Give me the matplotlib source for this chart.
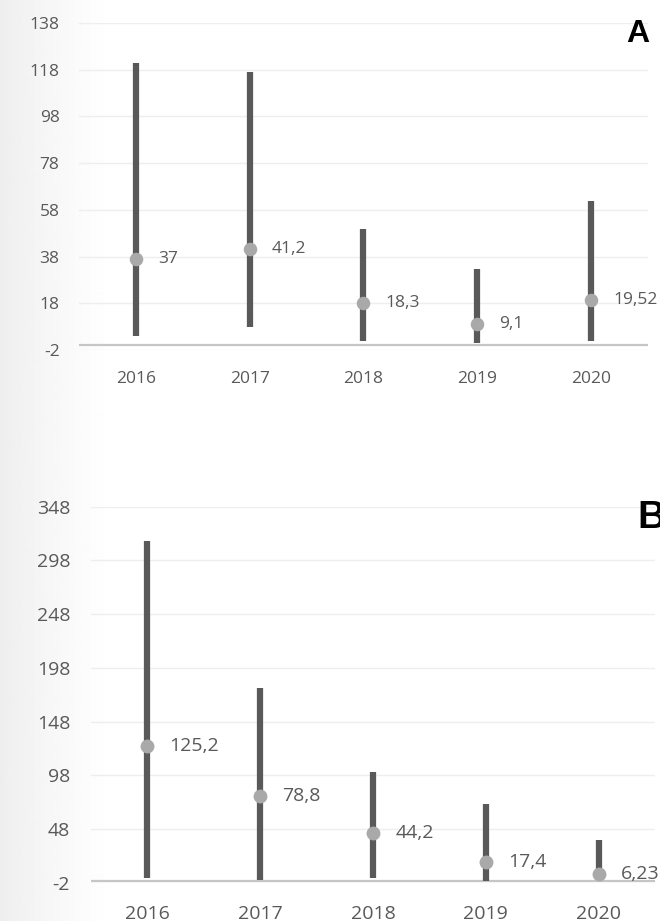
import numpy as np
import matplotlib.pyplot as plt

# categories
years = ['2016', '2017', '2018', '2019', '2020']

# panel A: central value with low / high range
a_mid = [37, 41.2, 18.3, 9.1, 19.52]
a_low = [4, 7.8, 1.9, 1, 1.9]
a_high = [121, 117, 49.8, 32.7, 61.8]
a_labels = ['37', '41,2', '18,3', '9,1', '19,52']
a_ticks = [-2, 18, 38, 58, 78, 98, 118, 138]

# panel B
b_mid = [125.2, 78.8, 44.2, 17.4, 6.23]
b_low = [2.6, 0.5, 2.6, 0, 3]
b_high = [316, 179, 101.3, 71.3, 37.7]
b_labels = ['125,2', '78,8', '44,2', '17,4', '6,23']
b_ticks = [-2, 48, 98, 148, 198, 248, 298, 348]

plt.rcParams['font.family'] = ['Open Sans', 'DejaVu Sans']

fig = plt.figure(figsize=(6.6, 9.21), dpi=100)

# soft grey shading down the left edge
bg = fig.add_axes([0, 0, 1, 1], zorder=-10)
grad = np.linspace(0, 1, 660)
shade = 0.93 + 0.07 * np.clip(grad / 0.17, 0, 1) ** 0.8
bg.imshow(np.tile(shade, (10, 1)), cmap='gray', vmin=0, vmax=1,
          aspect='auto', extent=[0, 1, 0, 1], interpolation='bilinear')
bg.set_xlim(0, 1)
bg.set_ylim(0, 1)
bg.axis('off')

txt = '#595959'


def draw_panel(ax, mid, low, high, labels, ticks, fs, dot_size):
    x = np.arange(len(years))
    ax.patch.set_alpha(0)
    for yv in ticks:
        ax.axhline(yv, color='#eeeeee', lw=1.0, zorder=0)
    ax.axhline(0, color='#c6c6c6', lw=1.6, zorder=1)
    ax.vlines(x, low, high, color='#595959', lw=4.5, zorder=2)
    ax.scatter(x, mid, s=dot_size, color='#a9a9a9', zorder=3, linewidths=0)
    for xi, yi, lab in zip(x, mid, labels):
        ax.annotate(lab, (xi, yi), xytext=(16, 0), textcoords='offset points',
                    ha='left', va='center', fontsize=fs, color=txt, zorder=4,
                    annotation_clip=False)
    ax.set_xlim(-0.5, len(years) - 0.5)
    ax.set_ylim(ticks[0], ticks[-1])
    ax.set_yticks(ticks)
    ax.set_yticklabels([str(t) for t in ticks])
    ax.set_xticks(x)
    ax.set_xticklabels(years)
    ax.tick_params(length=0, labelsize=fs, colors=txt)
    for s in ax.spines.values():
        s.set_visible(False)


ax1 = fig.add_axes([79 / 660, 1 - 350 / 921, 569 / 660, 327 / 921])
draw_panel(ax1, a_mid, a_low, a_high, a_labels, a_ticks, 12.5, 95)
ax1.tick_params(axis='y', pad=14)
ax1.tick_params(axis='x', pad=15)

ax2 = fig.add_axes([91 / 660, 1 - 882.7 / 921, 564 / 660, 376 / 921])
draw_panel(ax2, b_mid, b_low, b_high, b_labels, b_ticks, 14, 100)
ax2.tick_params(axis='y', pad=15)
ax2.tick_params(axis='x', pad=16)

fig.text(638 / 660, 1 - 42 / 921, 'A', ha='center', va='baseline',
         fontsize=23, fontweight='bold', family='Liberation Sans', color='black')
fig.text(637 / 660, 1 - 528 / 921, 'B', ha='left', va='baseline',
         fontsize=28, fontweight='bold', family='Liberation Sans', color='black')

fig.savefig('out.png', dpi=100)
